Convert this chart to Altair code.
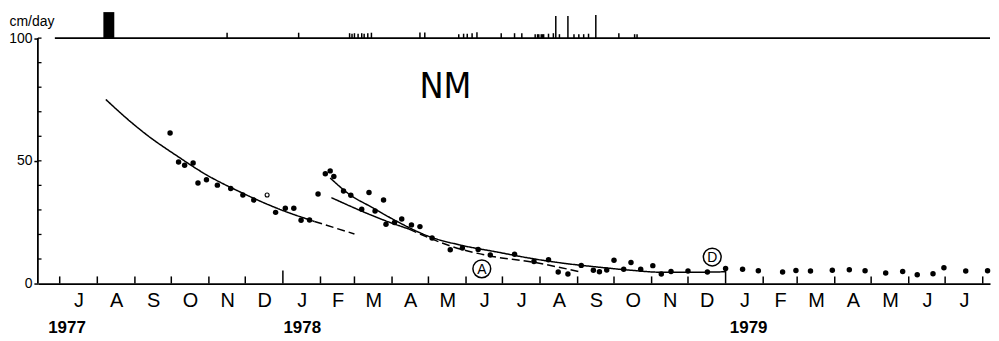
import altair as alt
import pandas as pd

# ---------------- values ----------------
# observations (cm/day)
obs_dates = [
    "1977-09-30", "1977-10-07", "1977-10-12", "1977-10-19", "1977-10-23", "1977-10-30",
    "1977-11-08", "1977-11-19", "1977-11-29", "1977-12-08", "1977-12-26", "1978-01-03",
    "1978-01-10", "1978-01-16", "1978-01-23", "1978-01-30", "1978-02-05", "1978-02-09",
    "1978-02-12", "1978-02-20", "1978-02-26", "1978-03-07", "1978-03-13", "1978-03-18",
    "1978-03-25", "1978-03-27", "1978-04-03", "1978-04-09", "1978-04-17", "1978-04-24",
    "1978-05-04", "1978-05-19", "1978-05-29", "1978-06-11", "1978-06-21", "1978-07-11",
    "1978-07-27", "1978-08-08", "1978-08-16", "1978-08-24", "1978-09-04", "1978-09-14",
    "1978-09-19", "1978-09-25", "1978-10-01", "1978-10-09", "1978-10-15", "1978-10-23",
    "1978-11-02", "1978-11-09", "1978-11-17", "1978-12-01", "1978-12-17", "1979-01-01",
    "1979-01-15", "1979-01-28", "1979-02-17", "1979-02-28", "1979-03-12", "1979-03-30",
    "1979-04-13", "1979-04-26", "1979-05-13", "1979-05-27", "1979-06-08", "1979-06-21",
    "1979-06-30", "1979-07-18", "1979-08-05",
]
obs_vals = [
    61.3, 49.5, 48.2, 49.1, 41.0, 42.3,
    40.1, 38.7, 36.1, 34.0, 29.0, 30.7,
    30.7, 25.8, 25.9, 36.5, 44.7, 45.9,
    43.6, 37.7, 36.0, 30.3, 37.1, 29.6,
    34.0, 24.2, 24.9, 26.3, 23.9, 23.2,
    18.6, 13.8, 14.5, 13.9, 11.6, 11.9,
    9.0, 9.7, 4.7, 3.9, 7.4, 5.4,
    4.8, 5.5, 9.5, 5.8, 8.6, 5.8,
    7.3, 3.9, 4.9, 5.1, 4.7, 6.1,
    5.8, 5.2, 4.7, 5.3, 5.1, 5.4,
    5.6, 5.2, 4.3, 4.9, 3.6, 4.0,
    6.4, 5.1, 5.2,
]
open_dates = ["1977-12-19"]
open_vals = [36.1]

# fitted curves
c1_dates = ["1977-08-08", "1977-08-28", "1977-09-11", "1977-10-06", "1977-10-30",
            "1977-11-29", "1977-12-26", "1978-01-27"]
c1_vals = [75.0, 66.1, 60.5, 51.9, 44.3, 36.8, 30.9, 25.3]
c1d_dates = ["1978-01-27", "1978-03-01"]
c1d_vals = [25.3, 20.2]
c2_dates = ["1978-02-09", "1978-02-25", "1978-03-16", "1978-04-04", "1978-05-02",
            "1978-05-29", "1978-06-26", "1978-07-24", "1978-08-20", "1978-09-16",
            "1978-10-13", "1978-11-10", "1978-12-05", "1979-01-01"]
c2_vals = [43.0, 36.3, 30.9, 25.6, 19.1, 15.5, 12.9, 10.3, 8.3, 6.8, 5.5, 4.6, 4.6, 4.8]
c3_dates = ["1978-02-10", "1978-03-07", "1978-03-27", "1978-04-15"]
c3_vals = [35.0, 29.5, 25.5, 22.2]
c3d_dates = ["1978-04-15", "1978-05-18", "1978-06-20", "1978-07-24", "1978-09-02"]
c3d_vals = [22.2, 15.5, 11.3, 8.9, 4.9]

# rainfall strip
rain_dates = [
    "1977-11-16", "1978-01-14",
    "1978-02-25", "1978-02-27", "1978-03-01", "1978-03-04", "1978-03-07", "1978-03-09",
    "1978-03-12", "1978-03-15", "1978-04-24", "1978-04-28",
    "1978-05-26", "1978-05-30", "1978-06-02", "1978-06-06", "1978-06-10",
    "1978-06-30", "1978-07-11", "1978-07-17",
    "1978-07-28", "1978-07-30", "1978-07-31", "1978-08-02", "1978-08-03", "1978-08-04",
    "1978-08-08", "1978-08-12", "1978-08-14", "1978-08-17", "1978-08-24",
    "1978-08-29", "1978-09-02", "1978-09-06", "1978-09-10", "1978-09-16",
    "1978-10-05", "1978-10-18", "1978-10-20",
]
rain_vals = [
    2.2, 2.2,
    2.0, 1.8, 2.0, 1.8, 2.0, 1.8,
    2.0, 2.2, 2.3, 2.3,
    1.6, 1.8, 1.8, 2.0, 2.4,
    2.0, 2.0, 2.0,
    1.6, 1.6, 1.6, 1.6, 1.6, 1.6,
    1.8, 2.0, 9.0, 1.6, 9.0,
    1.6, 1.6, 1.6, 1.8, 9.4,
    2.0, 1.6, 1.6,
]
storm_start = ["1977-08-06"]
storm_end = ["1977-08-15"]
storm_vals = [10.6]
rain_line_start = "1977-06-27"

# annotations / labels
circle_labels = ["A", "D"]
circle_dates = ["1978-06-14", "1978-12-21"]
circle_vals = [6.0, 10.8]
site_label = "NM"
site_date = "1978-05-15"
site_val = 75.4
unit_label = "cm/day"
year_labels = ["1977", "1978", "1979"]
year_dates = ["1977-07-07", "1978-01-17", "1979-01-20"]
month_letters = ["J", "F", "M", "A", "M", "J", "J", "A", "S", "O", "N", "D"]
y_label_values = [0, 50, 100]
y_minor_values = [10, 20, 30, 40, 50, 60, 70, 80, 90, 100]
x_start = "1977-06-13"
x_end = "1979-08-07"

# ---------------- layout ----------------
W, H = 956, 276
Y_TOP = 112
FONT = "Liberation Sans"

month_starts = pd.date_range("1977-07-01", "1979-08-01", freq="MS")
mid_months = [a + (b - a) / 2 for a, b in zip(month_starts[:-1], month_starts[1:])]
mid_ms = [int((t - pd.Timestamp("1970-01-01")) // pd.Timedelta("1ms")) for t in mid_months]
letters_js = "[" + ",".join("'%s'" % m for m in month_letters) + "]"

xs = pd.Timestamp(x_start)
xe = pd.Timestamp(x_end)
xscale = alt.Scale(
    type="utc",
    domain=[alt.DateTime(year=xs.year, month=xs.month, date=xs.day, utc=True),
            alt.DateTime(year=xe.year, month=xe.month, date=xe.day, utc=True)],
)
xaxis = alt.Axis(
    values=mid_ms, labelExpr=letters_js + "[utcmonth(datum.value)]",
    ticks=False, tickSize=0, grid=False, domain=True, domainColor="black",
    domainWidth=1.8, labelFont=FONT, labelFontSize=20, labelColor="black",
    labelPadding=17, labelBaseline="middle", labelFlush=False, labelOverlap=False,
    title=None,
)
yscale = alt.Scale(domain=[0, Y_TOP], nice=False)
yaxis = alt.Axis(
    values=y_label_values, grid=False, domain=False, tickSize=4, tickColor="black",
    tickWidth=1.5, labelFont=FONT, labelFontSize=14, labelColor="black",
    labelPadding=2, title=None,
)


def X(field="date"):
    return alt.X(field + ":T", scale=xscale, axis=xaxis)


def Y(field="v"):
    return alt.Y(field + ":Q", scale=yscale, axis=yaxis)


# y axis line and inward minor ticks
yline = alt.Chart(pd.DataFrame({"date": [x_start], "v": [0], "v2": [100]})).mark_rule(
    color="black", strokeWidth=1.8).encode(x=X(), y=Y(), y2="v2:Q")
minor_df = pd.DataFrame({
    "date": [x_start] * len(y_minor_values),
    "date2": [(xs + pd.Timedelta(days=3)).strftime("%Y-%m-%d")] * len(y_minor_values),
    "v": y_minor_values,
})
yminor = alt.Chart(minor_df).mark_rule(color="black", strokeWidth=1.3).encode(
    x=X(), x2="date2:T", y=Y())

# inward month ticks (January ones longer)
mt_df = pd.DataFrame({
    "date": [d.strftime("%Y-%m-%d") for d in month_starts],
    "v": [0] * len(month_starts),
    "v2": [5.3 if d.month == 1 else 2.9 for d in month_starts],
})
mticks = alt.Chart(mt_df).mark_rule(color="black", strokeWidth=1.5).encode(
    x=X(), y=Y(), y2="v2:Q")

# rainfall strip
rline = alt.Chart(pd.DataFrame({"date": [rain_line_start], "date2": [x_end], "v": [100]})).mark_rule(
    color="black", strokeWidth=1.8).encode(x=X(), x2="date2:T", y=Y())
rain_df = pd.DataFrame({"date": rain_dates, "v": [100] * len(rain_dates),
                        "v2": [100 + r for r in rain_vals]})
rticks = alt.Chart(rain_df).mark_rule(color="black", strokeWidth=1.5).encode(
    x=X(), y=Y(), y2="v2:Q")
storm_df = pd.DataFrame({"date": storm_start, "date2": storm_end, "v": [100] * len(storm_start),
                         "v2": [100 + s for s in storm_vals]})
storm = alt.Chart(storm_df).mark_rect(color="black").encode(
    x=X(), x2="date2:T", y=Y(), y2="v2:Q")

# curves
curve_parts = [("c1", "solid", c1_dates, c1_vals), ("c1d", "dashed", c1d_dates, c1d_vals),
               ("c2", "solid", c2_dates, c2_vals), ("c3", "solid", c3_dates, c3_vals),
               ("c3d", "dashed", c3d_dates, c3d_vals)]
curve_df = pd.concat([
    pd.DataFrame({"date": d, "v": v, "curve": name, "style": style})
    for name, style, d, v in curve_parts
], ignore_index=True)
curves = alt.Chart(curve_df).mark_line(color="black", strokeWidth=1.5, interpolate="monotone").encode(
    x=X(), y=Y(), detail="curve:N",
    strokeDash=alt.StrokeDash("style:N", scale=alt.Scale(domain=["solid", "dashed"],
                                                          range=[[1, 0], [8, 4]]), legend=None),
)

# points
pts = alt.Chart(pd.DataFrame({"date": obs_dates, "v": obs_vals})).mark_circle(
    size=30, color="black", opacity=1).encode(x=X(), y=Y())
opts = alt.Chart(pd.DataFrame({"date": open_dates, "v": open_vals})).mark_point(
    shape="circle", size=16, filled=False, color="black", strokeWidth=1.1, opacity=1).encode(x=X(), y=Y())

# circled letters
circ_df = pd.DataFrame({"date": circle_dates, "v": circle_vals, "label": circle_labels})
circs = alt.Chart(circ_df).mark_point(shape="circle", size=320, filled=False, color="black",
                                      strokeWidth=1.5, opacity=1).encode(x=X(), y=Y())
circt = alt.Chart(circ_df).mark_text(font=FONT, fontSize=14, color="black", baseline="middle",
                                     align="center", dy=1).encode(x=X(), y=Y(), text="label:N")

# NM title
site = alt.Chart(pd.DataFrame({"date": [site_date], "v": [site_val], "label": [site_label]})).mark_text(
    font="DejaVu Sans Condensed, Liberation Sans", fontSize=36, color="black",
    baseline="alphabetic", align="center"
).encode(x=X(), y=Y(), text="label:N")

# unit label
unit = alt.Chart(pd.DataFrame({"date": [x_start], "v": [105], "label": [unit_label]})).mark_text(
    font=FONT, fontSize=14, color="black", baseline="alphabetic", align="center", dx=-6
).encode(x=X(), y=Y(), text="label:N")

# year labels
years = alt.Chart(pd.DataFrame({"date": year_dates, "label": year_labels})).mark_text(
    font=FONT, fontSize=17, fontWeight="bold", color="black", baseline="middle", align="center"
).encode(x=X(), y=alt.value(H + 45), text="label:N")

chart = alt.layer(
    yline, yminor, mticks, rline, rticks, storm, curves, pts, opts, circs, circt, site, unit, years
).properties(width=W, height=H, padding=0, background="white").configure_view(stroke=None)

chart.save("out.html", embed_options={"renderer": "svg", "actions": False})
